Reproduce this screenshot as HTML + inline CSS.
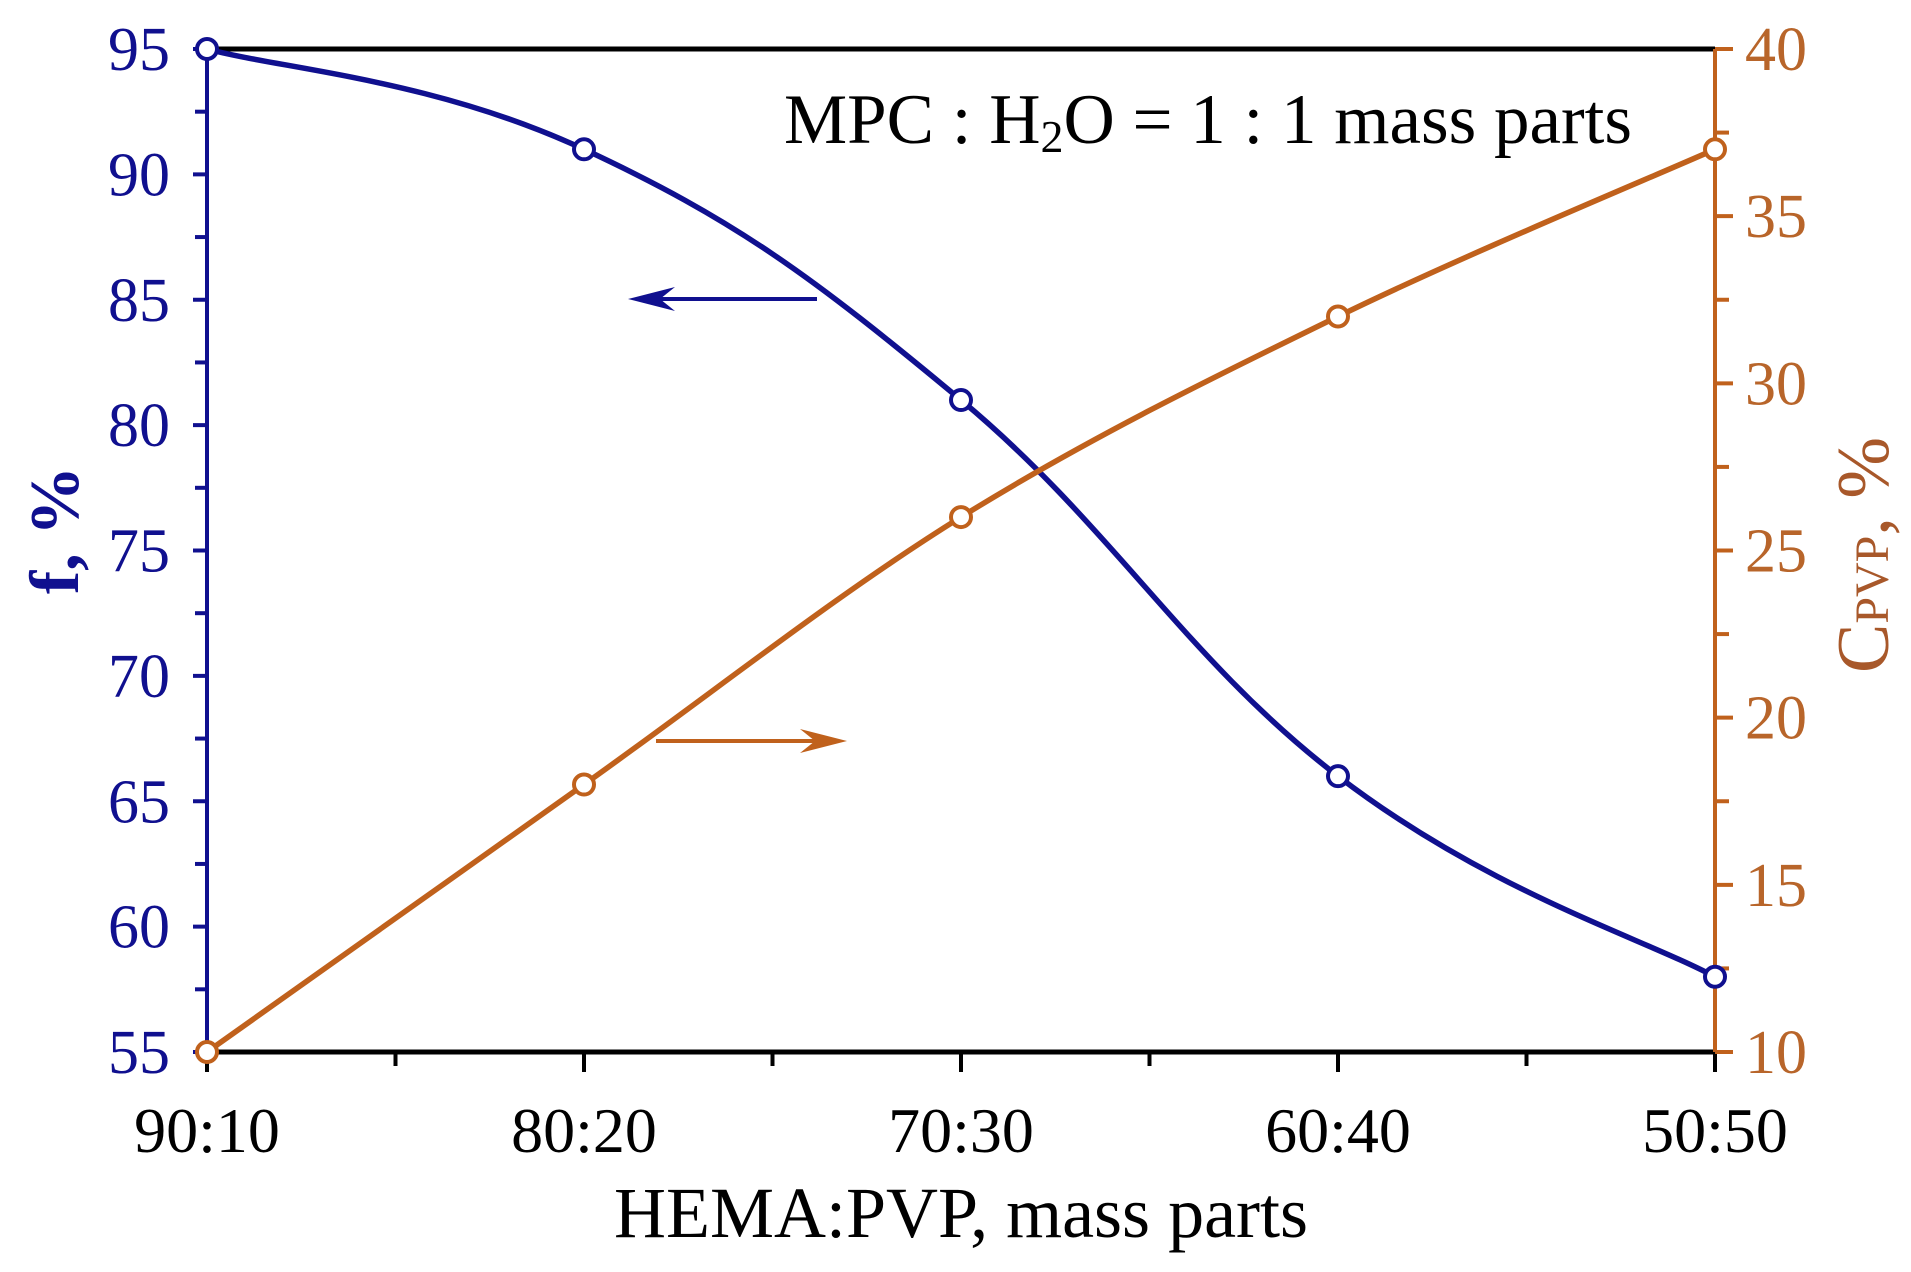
<!DOCTYPE html>
<html><head><meta charset="utf-8"><style>
body{margin:0;background:#fff}
svg text{font-family:"Liberation Serif",serif}
</style></head><body>
<svg id="chart" width="1911" height="1267" viewBox="0 0 1911 1267" xmlns="http://www.w3.org/2000/svg">
<g id="axes"></g>
<g id="series"></g>
<text x="784" y="143" font-size="71" fill="#000">MPC : H<tspan font-size="46" dy="9">2</tspan><tspan dy="-9">O = 1 : 1 mass parts</tspan></text>
<text x="961" y="1237" font-size="72" text-anchor="middle" fill="#000">HEMA:PVP, mass parts</text>
<text transform="translate(78,530) rotate(-90)" font-size="70" font-weight="bold" text-anchor="middle" fill="#10108f">f, %</text>
<text transform="translate(1888,555) rotate(-90)" font-size="74" text-anchor="middle" fill="#a8582a">C<tspan font-size="48">PVP</tspan>, %</text>
<g>
<line x1="817" y1="299" x2="640" y2="299" stroke="#10108f" stroke-width="4"/>
<path d="M628 299 L675 287 L660 299 L675 311 Z" fill="#10108f"/>
</g>
<g>
<line x1="656" y1="741" x2="835" y2="741" stroke="#c0611c" stroke-width="4"/>
<path d="M847 741 L800 729 L815 741 L800 753 Z" fill="#c0611c"/>
</g>
</svg>
<script>
const categories=["90:10","80:20","70:30","60:40","50:50"];
const fValues=[95,91,81,66,58];
const cValues=[10,18,26,32,37];
const leftTicks=[55,60,65,70,75,80,85,90,95];
const rightTicks=[10,15,20,25,30,35,40];
const BLUE="#10108f",ORANGE="#c0611c";
const X0=207,X1=1715,Y0=1052,Y1=49;
const NS="http://www.w3.org/2000/svg";
function xs(i){return X0+(X1-X0)*i/(categories.length-1);}
function yl(v){return Y0-(v-55)/(95-55)*(Y0-Y1);}
function yr(v){return Y0-(v-10)/(40-10)*(Y0-Y1);}
function mk(tag,attrs,parent,txt){const e=document.createElementNS(NS,tag);for(const k in attrs)e.setAttribute(k,attrs[k]);if(txt!==undefined)e.textContent=txt;parent.appendChild(e);return e;}
const ax=document.getElementById('axes');
let e;
e=mk('line',{x1:X0,y1:Y1,x2:X1,y2:Y1,stroke:'#000','stroke-width':5},ax);


e=mk('line',{x1:X0,y1:Y0,x2:X1,y2:Y0,stroke:'#000','stroke-width':5},ax);


e=mk('line',{x1:X0,y1:Y1,x2:X0,y2:Y0,stroke:BLUE,'stroke-width':4},ax);


e=mk('line',{x1:X1,y1:Y1,x2:X1,y2:Y0,stroke:ORANGE,'stroke-width':4},ax);


for(let i=0;i<categories.length;i++){
  e=mk('line',{x1:xs(i),y1:Y0,x2:xs(i),y2:Y0+20,stroke:'#000','stroke-width':4},ax);
  
  
  if(i<categories.length-1){
    const m=(xs(i)+xs(i+1))/2;
    e=mk('line',{x1:m,y1:Y0,x2:m,y2:Y0+14,stroke:'#000','stroke-width':4},ax);
    
    
  }
  e=mk('text',{x:xs(i),y:1152,'font-size':64,'text-anchor':'middle',fill:'#000'},ax,categories[i]);
  
  
}
leftTicks.forEach((v,i)=>{
  e=mk('line',{x1:X0-14,y1:yl(v),x2:X0,y2:yl(v),stroke:BLUE,'stroke-width':4},ax);
  
  
  if(i<leftTicks.length-1){
    e=mk('line',{x1:X0-12,y1:yl(v+2.5),x2:X0,y2:yl(v+2.5),stroke:BLUE,'stroke-width':4},ax);
    
    
  }
  e=mk('text',{x:170,y:yl(v)+21,'font-size':62,'text-anchor':'end',fill:BLUE},ax,String(v));
  
  
});
rightTicks.forEach((v,i)=>{
  e=mk('line',{x1:X1,y1:yr(v),x2:X1+18,y2:yr(v),stroke:ORANGE,'stroke-width':4},ax);
  
  
  if(i<rightTicks.length-1){
    e=mk('line',{x1:X1,y1:yr(v+2.5),x2:X1+14,y2:yr(v+2.5),stroke:ORANGE,'stroke-width':4},ax);
    
    
  }
  e=mk('text',{x:1745,y:yr(v)+21,'font-size':62,'text-anchor':'start',fill:'#b8652a'},ax,String(v));
  
  
});
function spline(pts,t){
  let d=`M${pts[0][0]},${pts[0][1]}`;
  for(let i=0;i<pts.length-1;i++){
    const p0=pts[Math.max(i-1,0)],p1=pts[i],p2=pts[i+1],p3=pts[Math.min(i+2,pts.length-1)];
    const c1=[p1[0]+(p2[0]-p0[0])/t,p1[1]+(p2[1]-p0[1])/t];
    const c2=[p2[0]-(p3[0]-p1[0])/t,p2[1]-(p3[1]-p1[1])/t];
    d+=` C${c1[0]},${c1[1]} ${c2[0]},${c2[1]} ${p2[0]},${p2[1]}`;
  }
  return d;
}
const sg=document.getElementById('series');
const fp=fValues.map((v,i)=>[xs(i),yl(v)]);
const cp=cValues.map((v,i)=>[xs(i),yr(v)]);
e=mk('path',{d:spline(fp,5),fill:'none',stroke:BLUE,'stroke-width':5.5},sg);


e=mk('path',{d:spline(cp,6),fill:'none',stroke:ORANGE,'stroke-width':5.5},sg);


fp.forEach(p=>{
  e=mk('circle',{cx:p[0],cy:p[1],r:10,fill:'#fff',stroke:BLUE,'stroke-width':4},sg);
  
  
});
cp.forEach(p=>{
  e=mk('circle',{cx:p[0],cy:p[1],r:10,fill:'#fff',stroke:ORANGE,'stroke-width':4},sg);
  
  
});
</script>
</body></html>
